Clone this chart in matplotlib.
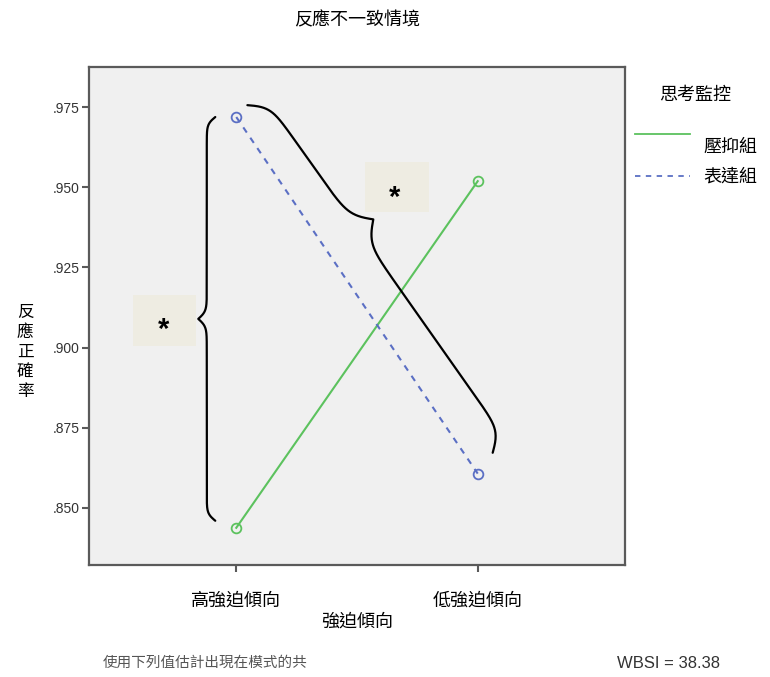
import numpy as np
import matplotlib.pyplot as plt
from matplotlib.lines import Line2D
from matplotlib.patches import Rectangle

CJK = ['Noto Sans CJK TC', 'DejaVu Sans']
LAT = ['Liberation Sans', 'DejaVu Sans']

# data
groups = ['高強迫傾向', '低強迫傾向']
suppress = [0.8438, 0.9519]   # 壓抑組
express = [0.9719, 0.8607]    # 表達組
series_names = ['壓抑組', '表達組']
yticks = [0.850, 0.875, 0.900, 0.925, 0.950, 0.975]

green = '#5cc25e'
blue = '#5b6fc4'
frame = '#5a5a5a'

fig = plt.figure(figsize=(7.7, 6.77), dpi=100)
ax = fig.add_axes([89 / 770, 112 / 677, 536 / 770, 498 / 677])
ax.set_facecolor('#f0f0f0')

x = np.arange(len(groups))
ax.plot(x, suppress, color=green, lw=1.5, marker='o', ms=7, mfc='none', mew=1.3)
ax.plot(x, express, color=blue, lw=1.5, ls=(0, (3, 3)), marker='o', ms=7, mfc='none', mew=1.3)

ax.set_xlim(-0.61, 1.61)
ax.set_ylim(0.8322, 0.9875)
ax.set_xticks(x)
ax.set_xticklabels(groups, family=CJK, fontsize=13)
ax.set_yticks(yticks)
ax.set_yticklabels([f'{v:.3f}'[1:] for v in yticks], family=LAT, fontsize=10, color='#333333')
ax.tick_params(axis='y', length=5, width=1.5, color=frame, pad=1.5, direction='out')
ax.tick_params(axis='x', length=5, width=1.5, color=frame, pad=14, direction='out')
for s in ax.spines.values():
    s.set_color(frame)
    s.set_linewidth(1.6)


def sig(v):
    return 1 / (1 + np.exp(-v))


def brace(p1, p2, depth, frac, b_end, b_tip):
    # curly brace between two data points, shape built in pixels
    a = ax.transData.transform(p1)
    b = ax.transData.transform(p2)
    L = np.hypot(*(b - a))
    d = (b - a) / L
    n = np.array([-d[1], d[0]])
    la, lb = frac * L, (1 - frac) * L
    s1 = np.linspace(0, la, 300)
    y1 = sig(b_end * s1) + sig(b_tip * (s1 - la)) - 0.5
    s2 = np.linspace(0, lb, 300)
    y2 = sig(b_end * s2) + sig(b_tip * (s2 - lb)) - 0.5
    pos = np.concatenate([s1, (L - s2)[::-1]])
    off = np.concatenate([y1, y2[::-1]]) * depth
    pts = a + np.outer(pos, d) + np.outer(off, n)
    pts = ax.transData.inverted().transform(pts)
    ax.plot(pts[:, 0], pts[:, 1], color='black', lw=1.6, solid_capstyle='round')


brace((-0.087, 0.9719), (-0.087, 0.846), -17, 0.5, 0.28, 0.26)
brace((0.046, 0.9756), (1.062, 0.8672), 37, 0.39, 0.13, 0.11)

box_c = '#eeece2'
ax.add_patch(Rectangle((-0.427, 0.9006), 0.261, 0.0159, color=box_c, lw=0))
ax.text(-0.30, 0.9055, '*', ha='center', va='center', fontsize=21, family=LAT, weight='bold')
ax.add_patch(Rectangle((0.535, 0.9422), 0.262, 0.0156, color=box_c, lw=0))
ax.text(0.657, 0.9468, '*', ha='center', va='center', fontsize=21, family=LAT, weight='bold')

# texts around the plot
fig.text(357 / 770, 1 - 20 / 677, '反應不一致情境', ha='center', va='center', family=CJK, fontsize=13)
fig.text(357 / 770, 1 - 622 / 677, '強迫傾向', ha='center', va='center', family=CJK, fontsize=13)
fig.text(25 / 770, 1 - 352 / 677, '\n'.join('反應正確率'), ha='center', va='center',
         family=CJK, fontsize=12, linespacing=1.2)

# legend
fig.text(695 / 770, 1 - 95 / 677, '思考監控', ha='center', va='center', family=CJK, fontsize=13)
fig.add_artist(Line2D([635 / 770, 690 / 770], [1 - 134 / 677] * 2, color=green, lw=1.3,
                      transform=fig.transFigure))
fig.add_artist(Line2D([635 / 770, 690 / 770], [1 - 176 / 677] * 2, color=blue, lw=1.3,
                      ls=(0, (3, 3)), transform=fig.transFigure))
fig.text(703 / 770, 1 - 147 / 677, series_names[0], ha='left', va='center', family=CJK, fontsize=13)
fig.text(703 / 770, 1 - 177 / 677, series_names[1], ha='left', va='center', family=CJK, fontsize=13)

# footer
fig.text(103 / 770, 1 - 663 / 677, '使用下列值估計出現在模式的共', ha='left', va='center',
         family=CJK, fontsize=10.5, color='#555555')
fig.text(617 / 770, 1 - 663 / 677, 'WBSI = 38.38', ha='left', va='center',
         family=LAT, fontsize=12, color='#333333')

fig.savefig('out.png', dpi=100)
